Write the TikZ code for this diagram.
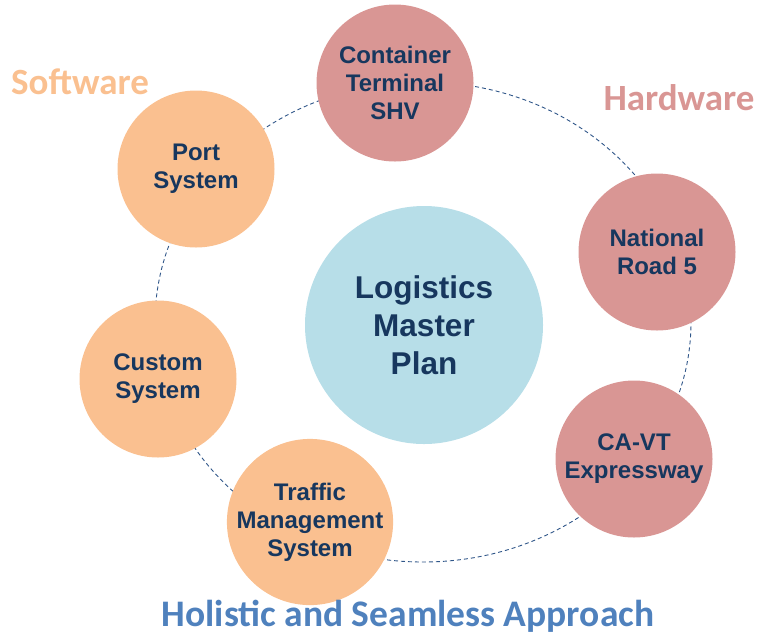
\documentclass[tikz,border=0pt]{standalone}
\usepackage{fontspec}
\setmainfont{Liberation Sans}
\newfontfamily\calibri{Carlito}
\usepackage{xcolor}

\definecolor{hardpink}{HTML}{D99694}
\definecolor{softpeach}{HTML}{FAC090}
\definecolor{planblue}{HTML}{B7DEE8}
\definecolor{navytext}{HTML}{17375E}
\definecolor{ringblue}{HTML}{2F5689}
\definecolor{titleblue}{HTML}{4F81BD}

\tikzset{
	bubble/.style={circle, draw=none, inner sep=0pt, minimum size=157pt, align=center,
		text=navytext, font=\fontsize{24}{28}\selectfont\bfseries},
	hardbubble/.style={bubble, fill=hardpink},
	softbubble/.style={bubble, fill=softpeach},
	ring/.style={ringblue, line width=0.9pt, dash pattern=on 4pt off 3pt},
	grouplabel/.style={font=\calibri\fontsize{37}{40}\selectfont\bfseries}
	}

\begin{document}
\begin{tikzpicture}[x=1pt, y=-1pt]

	% frame of the picture
	\useasboundingbox (0,0) rectangle (760,641);

	% dashed ring behind the bubbles
	\coordinate (hub) at (423,322);
	\draw[ring] (hub) ellipse [x radius=268pt, y radius=240pt];

	% centre
	\node[bubble, fill=planblue, minimum size=238pt, font=\fontsize{31.5}{38}\selectfont\bfseries]
		(plan) at (424,325) {Logistics\\Master\\Plan};

	% hardware side
	\node[hardbubble] (terminal) at (395,83) {Container\\Terminal\\SHV};
	\node[hardbubble] (road) at (657,252) {National\\Road 5};
	\node[hardbubble] (expressway) at (634,459) {CA-VT\\Expressway};

	% software side
	\node[softbubble] (port) at (196,169) {Port\\System};
	\node[softbubble] (custom) at (158,379) {Custom\\System};
	\node[softbubble] (traffic) at (310,522) {Traffic\\Management\\System};

	% annotation
	\node[grouplabel, text=softpeach] (software) at (80,82) {Software};
	\node[grouplabel, text=hardpink] (hardware) at (679,98) {Hardware};
	\node[grouplabel, text=titleblue, font=\calibri\fontsize{37.5}{40}\selectfont\bfseries]
		(approach) at (408,616) {Holistic and Seamless Approach};

\end{tikzpicture}
\end{document}
